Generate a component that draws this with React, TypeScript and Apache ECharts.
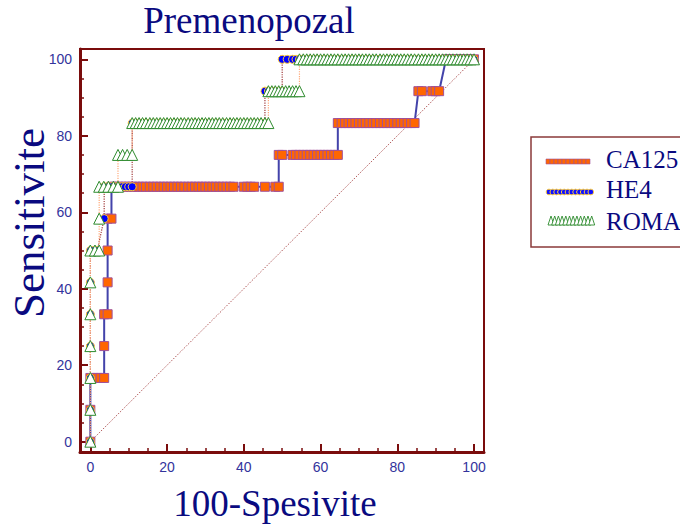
import React, { useEffect, useRef } from "react";
import * as echarts from "echarts";

// ROC curves, premenopausal group: sensitivity levels and the false-positive
// rates (100 - specificity) at which each curve has a criterion point.
const ca125Sens = [0, 8.33, 16.67, 25, 33.33, 41.67, 50, 58.33, 66.67, 75, 83.33, 91.67, 100];
const ca125Fpr = [
  [0],
  [0],
  [0, 0.9, 1.8, 2.7, 3.6],
  [3.6],
  [3.6, 4.5],
  [4.5],
  [4.5],
  [4.5, 5.5],
  [5.5, 6.4, 7.3, 8.2, 9.1, 10.0, 10.9, 11.8, 12.7, 13.6, 14.5, 15.5, 16.4, 17.3, 18.2, 19.1, 20.0, 20.9, 21.8, 22.7, 23.6, 24.5, 25.5, 26.4, 27.3, 28.2, 29.1, 30.0, 30.9, 31.8, 32.7, 33.6, 34.5, 35.5, 36.4, 37.3, 40.0, 40.9, 41.8, 42.7, 45.5, 48.2, 49.1],
  [49.1, 50.0, 52.7, 53.6, 54.5, 55.5, 56.4, 57.3, 58.2, 59.1, 60.0, 60.9, 61.8, 62.7, 63.6, 64.5],
  [64.5, 65.5, 66.4, 67.3, 68.2, 69.1, 70.0, 70.9, 71.8, 72.7, 73.6, 74.5, 75.5, 76.4, 77.3, 78.2, 79.1, 80.0, 80.9, 81.8, 82.7, 83.6, 84.5],
  [85.5, 86.4, 89.1, 90.0, 90.9],
  [92.7, 93.6, 94.5, 95.5, 96.4, 97.3, 98.2, 99.1, 100],
];

const he4Sens = [0, 8.33, 16.67, 25, 33.33, 41.67, 50, 58.33, 66.67, 83.33, 91.67, 100];
const he4Fpr = [
  [0],
  [0],
  [0],
  [0],
  [0],
  [0],
  [0, 0.9, 1.8],
  [3.6],
  [3.6, 4.5, 5.5, 6.4, 7.3, 8.2, 9.1, 10.0, 10.9],
  [10.9, 11.8, 12.7, 13.6, 14.5, 15.5, 16.4, 17.3, 18.2, 19.1, 20.0, 20.9, 21.8, 22.7, 23.6, 24.5, 25.5, 26.4, 27.3, 28.2, 29.1, 30.0, 30.9, 31.8, 32.7, 33.6, 34.5, 35.5, 36.4, 37.3, 38.2, 39.1, 40.0, 40.9, 41.8, 42.7, 43.6, 44.5, 45.5],
  [45.5, 46.4, 47.3, 48.2, 49.1, 50.0],
  [50.0, 51.3, 52.7, 53.6, 54.5, 55.5, 56.4, 57.3, 58.2, 59.1, 60.0, 60.9, 61.8, 62.7, 63.6, 64.5, 65.5, 66.4, 67.3, 68.2, 69.1, 70.0, 70.9, 71.8, 72.7, 73.6, 74.5, 75.5, 76.4, 77.3, 78.2, 79.1, 80.0, 80.9, 81.8, 82.7, 83.6, 84.5, 85.5, 86.4, 87.3, 88.2, 89.1, 90.0, 90.9, 91.8, 92.7, 93.6, 94.5, 95.5, 96.4, 97.3, 98.2, 99.1, 100],
];

const romaSens = [0, 8.33, 16.67, 25, 33.33, 41.67, 50, 58.33, 66.67, 75, 83.33, 91.67, 100];
const romaFpr = [
  [0],
  [0],
  [0],
  [0],
  [0],
  [0],
  [0, 1.2, 2.3],
  [2.3],
  [2.3, 3.5, 4.7, 6.0, 7.2],
  [7.2, 8.4, 9.6, 10.9],
  [10.9, 11.8, 12.7, 13.6, 14.5, 15.5, 16.4, 17.3, 18.2, 19.1, 20.0, 20.9, 21.8, 22.7, 23.6, 24.5, 25.5, 26.4, 27.3, 28.2, 29.1, 30.0, 30.9, 31.8, 32.7, 33.6, 34.5, 35.5, 36.4, 37.3, 38.2, 39.1, 40.0, 40.9, 41.8, 42.7, 43.6, 44.5, 45.5, 46.4],
  [46.4, 47.3, 48.2, 49.1, 50.0, 50.9, 51.8, 52.7, 53.6, 54.5],
  [54.5, 55.5, 56.4, 57.3, 58.2, 59.1, 60.0, 60.9, 61.8, 62.7, 63.6, 64.5, 65.5, 66.4, 67.3, 68.2, 69.1, 70.0, 70.9, 71.8, 72.7, 73.6, 74.5, 75.5, 76.4, 77.3, 78.2, 79.1, 80.0, 80.9, 81.8, 82.7, 83.6, 84.5, 85.5, 86.4, 87.3, 88.2, 89.1, 90.0, 90.9, 91.8, 92.7, 93.6, 94.5, 95.5, 96.4, 97.3, 98.2, 99.1, 100],
];

const referenceLine = [[0, 0], [100, 100]];

const majorTicks = [0, 20, 40, 60, 80, 100];
const minorTicks = [5, 10, 15, 25, 30, 35, 45, 50, 55, 65, 70, 75, 85, 90, 95];

const MAROON = "#7a0c0c";
const LABEL_BLUE = "#33339c";
const NAVY = "#0a0a80";
const SERIF = "'Liberation Serif', 'Times New Roman', serif";
const SANS = "'Liberation Sans', Arial, sans-serif";

function toPath(sens: number[], fpr: number[][]): number[][] {
  const pts: number[][] = [];
  sens.forEach((s, i) => fpr[i].forEach((f) => pts.push([f, s])));
  return pts;
}

function mainAxis(position: "bottom" | "left") {
  return {
    type: "value",
    position,
    min: -2.7,
    max: position === "bottom" ? 102.6 : 102.7,
    axisLine: { show: true, onZero: false, lineStyle: { color: MAROON, width: 3 } },
    axisTick: {
      show: true,
      inside: true,
      length: 8,
      customValues: majorTicks,
      lineStyle: { color: MAROON, width: 2 },
    },
    axisLabel: {
      customValues: majorTicks,
      margin: 8,
      color: LABEL_BLUE,
      fontFamily: SANS,
      fontSize: 14,
    },
    splitLine: { show: false },
  };
}

function minorAxis(position: "bottom" | "left") {
  return {
    type: "value",
    position,
    min: -2.7,
    max: position === "bottom" ? 102.6 : 102.7,
    axisLine: { show: false, onZero: false },
    axisTick: {
      show: true,
      inside: true,
      length: 4,
      customValues: minorTicks,
      lineStyle: { color: MAROON, width: 1.5 },
    },
    axisLabel: { show: false },
    splitLine: { show: false },
  };
}

function legendGraphics(): any[] {
  const items: any[] = [
    {
      type: "rect",
      shape: { x: 531, y: 137, width: 170, height: 110 },
      style: { fill: "#fff", stroke: "#8a3a3a", lineWidth: 1.5 },
    },
  ];
  for (let i = 0; i < 11; i++) {
    items.push({
      type: "rect",
      shape: { x: 546 + i * 4, y: 159, width: 4, height: 5 },
      style: { fill: "#ff6600", stroke: "#a0509a", lineWidth: 0.6 },
    });
  }
  for (let i = 0; i < 12; i++) {
    items.push({
      type: "circle",
      shape: { cx: 549 + i * 3.8, cy: 192, r: 2.8 },
      style: { fill: "#1010ff", stroke: "#ffcc33", lineWidth: 1 },
    });
  }
  for (let i = 0; i < 12; i++) {
    const cx = 551 + i * 3.7;
    items.push({
      type: "polygon",
      shape: { points: [[cx - 3, 225], [cx, 216], [cx + 3, 225]] },
      style: { fill: "#fff", stroke: "#2e8b2e", lineWidth: 0.9 },
    });
  }
  const names = ["CA125", "HE4", "ROMA"];
  const ys = [159.5, 189.5, 221];
  names.forEach((n, i) => {
    items.push({
      type: "text",
      x: 606,
      y: ys[i],
      style: {
        text: n,
        fill: NAVY,
        font: `25px ${SERIF}`,
        textAlign: "left",
        textVerticalAlign: "middle",
      },
    });
  });
  return items;
}

const option: any = {
  animation: false,
  backgroundColor: "#ffffff",
  grid: {
    left: 80,
    right: 196,
    top: 49,
    bottom: 79,
    show: true,
    borderColor: MAROON,
    borderWidth: 2,
    backgroundColor: "transparent",
  },
  xAxis: [mainAxis("bottom"), minorAxis("bottom")],
  yAxis: [mainAxis("left"), minorAxis("left")],
  series: [
    {
      name: "Reference",
      type: "line",
      data: referenceLine,
      symbol: "none",
      silent: true,
      lineStyle: { color: "#b05a5a", width: 1, type: [1.5, 1.5] },
    },
    {
      name: "CA125",
      type: "line",
      data: toPath(ca125Sens, ca125Fpr),
      symbol: "rect",
      symbolSize: 9,
      showAllSymbol: true,
      lineStyle: { color: "#4343aa", width: 2 },
      itemStyle: { color: "#ff6600", borderColor: "#a0509a", borderWidth: 1 },
    },
    {
      name: "HE4",
      type: "line",
      data: toPath(he4Sens, he4Fpr),
      symbol: "circle",
      symbolSize: 8,
      showAllSymbol: true,
      lineStyle: { color: "#a03a3a", width: 1.2, type: "dotted" },
      itemStyle: { color: "#0000ff", borderColor: "#ffcc33", borderWidth: 1 },
    },
    {
      name: "ROMA",
      type: "line",
      data: toPath(romaSens, romaFpr),
      symbol: "triangle",
      symbolSize: [11, 11],
      showAllSymbol: true,
      lineStyle: { color: "#ffa878", width: 1.2, type: "dotted" },
      itemStyle: { color: "#ffffff", borderColor: "#2e8b2e", borderWidth: 1 },
    },
  ],
  graphic: [
    {
      type: "text",
      x: 249,
      y: 20,
      style: {
        text: "Premenopozal",
        fill: NAVY,
        font: `37px ${SERIF}`,
        textAlign: "center",
        textVerticalAlign: "middle",
      },
    },
    {
      type: "text",
      x: 275,
      y: 503,
      style: {
        text: "100-Spesivite",
        fill: NAVY,
        font: `37px ${SERIF}`,
        textAlign: "center",
        textVerticalAlign: "middle",
      },
    },
    {
      type: "text",
      x: 29,
      y: 223,
      rotation: Math.PI / 2,
      style: {
        text: "Sensitivite",
        fill: NAVY,
        font: `45px ${SERIF}`,
        textAlign: "center",
        textVerticalAlign: "middle",
      },
    },
    ...legendGraphics(),
  ],
};

export default function App() {
  const ref = useRef<HTMLDivElement>(null);
  useEffect(() => {
    const chart = echarts.init(ref.current!, null, { renderer: "svg" });
    chart.setOption(option);
    return () => chart.dispose();
  }, []);
  return (
    <div
      ref={ref}
      style={{ position: "absolute", left: 0, top: 0, width: 680, height: 531 }}
    />
  );
}
